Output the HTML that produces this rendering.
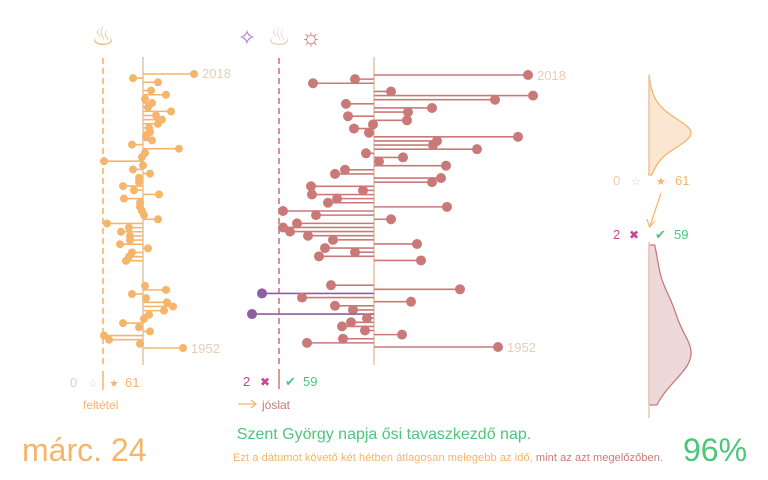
<!DOCTYPE html>
<html><head><meta charset="utf-8"><style>
html,body{margin:0;padding:0;background:#fff;}
svg{display:block;font-family:"Liberation Sans",sans-serif;}
</style></head><body>
<svg id="c" width="768" height="480" viewBox="0 0 768 480">
<g id="left"></g>
<g id="mid"></g>
<g id="dens"></g>
<text x="103" y="45" font-size="26" fill="#f5b56a" text-anchor="middle">♨</text>
<text x="247" y="45" font-size="22" fill="#a77cc0" text-anchor="middle">✧</text>
<text x="279" y="45" font-size="26" fill="#e8cdb5" text-anchor="middle">♨</text>
<text x="311" y="45" font-size="24" fill="#c97a78" text-anchor="middle">☼</text>
<text x="202" y="78" font-size="13" fill="#e8cdb5">2018</text>
<text x="191" y="353" font-size="13" fill="#e8cdb5">1952</text>
<text x="537" y="80" font-size="13" fill="#e8cdb5">2018</text>
<text x="507" y="352" font-size="13" fill="#e8cdb5">1952</text>
<g font-size="13">
<text x="70" y="387" fill="#f0cbb0">0</text><text x="88" y="387" fill="#f0cbb0" font-size="11">☆</text>
<line x1="103" y1="371" x2="103" y2="390" stroke="#f5b56a" stroke-width="1.5"/>
<text x="109" y="387" fill="#f5b56a" font-size="11">★</text><text x="125" y="387" fill="#f5b56a">61</text>
<text x="83" y="409" fill="#f5b56a" font-size="12">feltétel</text>
</g>
<g font-size="13">
<text x="243" y="386" fill="#cc4499">2</text><text x="260" y="386" fill="#cc4499" font-size="12">✖</text>
<line x1="279" y1="369" x2="279" y2="389" stroke="#c97a78" stroke-width="1.5"/>
<text x="285" y="386" fill="#4cc77a" font-size="13">✔</text><text x="303" y="386" fill="#4cc77a">59</text>
<line x1="238" y1="404" x2="255" y2="404" stroke="#f5b56a" stroke-width="1.3"/>
<path d="M251 400 L256 404 L251 408" fill="none" stroke="#f5b56a" stroke-width="1.3"/>
<text x="262" y="409" fill="#c97a78" font-size="12">jóslat</text>
</g>
<g font-size="13">
<text x="613" y="185" fill="#f0cbb0">0</text><text x="631" y="185" fill="#f0cbb0" font-size="11">☆</text>
<text x="656" y="185" fill="#f5b56a" font-size="11">★</text><text x="675" y="185" fill="#f5b56a">61</text>
<line x1="661" y1="193" x2="650" y2="226" stroke="#f5b56a" stroke-width="1.2"/>
<path d="M647 219 L649.5 227 L655 221" fill="none" stroke="#f5b56a" stroke-width="1.2"/>
<text x="613" y="239" fill="#cc4499">2</text><text x="629" y="239" fill="#cc4499" font-size="12">✖</text>
<text x="655" y="239" fill="#4cc77a">✔</text><text x="674" y="239" fill="#4cc77a">59</text>
</g>
<text x="22" y="461" font-size="32" fill="#f5b56a">márc. 24</text>
<text x="683" y="461" font-size="32" fill="#4cc77a">96%</text>
<text x="384" y="439" font-size="16" fill="#4cc77a" text-anchor="middle">Szent György napja ősi tavaszkezdő nap.</text>
<text x="448" y="461" font-size="11" fill="#f5b56a" text-anchor="middle" textLength="430">Ezt a dátumot követő két hétben átlagosan melegebb az idő, <tspan fill="#c97a78">mint az azt megelőzőben.</tspan></text>
</svg>
<script>
const years = []; for (let y = 2018; y >= 1952; y--) years.push(y);
const condValues = [5.1,-1.0,1.5,null,0.8,2.3,0.2,0.9,0.5,2.8,1.3,1.9,1.5,0.6,0.7,0.3,0.9,-1.1,3.6,0.2,-0.1,-3.9,0.0,-1.0,0.7,-0.4,-0.4,-2.0,-0.9,1.6,-1.9,-0.3,-0.3,-0.1,0.1,1.5,-3.6,-1.4,-2.2,-1.3,-1.3,-2.3,0.5,-1.1,-1.4,-1.7,null,null,null,null,null,0.2,2.3,-1.1,0.3,2.4,3.0,2.1,0.6,0.1,-2.0,-0.4,0.7,-3.9,-3.4,-0.3,4.0];
const predValues = [15.4,-1.9,-6.1,null,1.7,15.9,12.1,-2.8,5.8,3.4,-2.6,3.3,-0.1,-2.0,-0.5,14.4,6.3,5.9,10.3,-0.8,2.9,0.5,7.2,-2.9,-3.9,6.7,5.8,-6.3,-1.1,-6.2,-3.7,-4.6,7.3,-9.1,-5.8,1.7,-7.7,-9.1,-8.4,-6.6,-4.1,4.3,-4.9,-1.9,-5.5,4.7,null,null,null,null,null,-4.3,8.6,-11.2,-7.2,3.7,-3.9,-2.1,-12.2,-0.7,-2.3,-3.2,-0.9,2.8,-3.1,-6.7,12.4];
const condThreshold = -4.0, predThreshold = -9.5;
const NS='http://www.w3.org/2000/svg';
function mk(tag, attrs, parent){const e=document.createElementNS(NS,tag);for(const k in attrs)e.setAttribute(k,attrs[k]);parent.appendChild(e);return e;}
function drawLollipop(g, vals, x0, scale, yTop, yBot, r, color, thr, lowColor, lineColor, dashColor){
  const n = vals.length;
  const yS = i => yTop + i*(yBot-yTop)/(n-1);
  const xS = v => x0 + v*scale;
  const d = mk('line',{x1:xS(thr),x2:xS(thr),y1:58,y2:365,stroke:dashColor,'stroke-width':1.6,'stroke-dasharray':'6,4'},g);
  
  
  const a = mk('line',{x1:x0,x2:x0,y1:57,y2:365,stroke:lineColor,'stroke-width':1.8},g);
  
  
  vals.forEach((v,i)=>{
    if(v===null) return;
    const c = v < thr ? lowColor : color;
    const l = mk('line',{x1:x0,x2:xS(v),y1:yS(i),y2:yS(i),stroke:c,'stroke-width':1.6},g);
    
    
    const ci = mk('circle',{cx:xS(v),cy:yS(i),r:r,fill:c},g);
    
    
  });
}
drawLollipop(document.getElementById('left'), condValues, 143, 10, 74, 348, 4, '#f5b56a', condThreshold, '#f5b56a', '#e8cdb5', '#f5b56a');
drawLollipop(document.getElementById('mid'), predValues, 374, 10, 75, 347, 5, '#c97a78', predThreshold, '#8e5fa0', '#e8cdb5', '#c97a78');
function kde(vals, lo, hi, bw, steps){
  const v = vals.filter(x=>x!==null); const out=[];
  for(let s=0;s<=steps;s++){const x=lo+(hi-lo)*s/steps;let d=0;v.forEach(t=>{const z=(x-t)/bw;d+=Math.exp(-0.5*z*z);});out.push([x,d]);}
  const m=Math.max(...out.map(p=>p[1]));return out.map(p=>[p[0],p[1]/m]);
}
const dg=document.getElementById('dens');
function drawDens(vals, lo, hi, yLo, yHi, bw, fill, stroke, name){
  const pts=kde(vals,lo,hi,bw,60);
  const yS=x=>yLo+(x-lo)/(hi-lo)*(yHi-yLo);
  let p='M649 '+yS(lo);
  pts.forEach(q=>{p+=' L'+(649+q[1]*42).toFixed(1)+' '+yS(q[0]).toFixed(1);});
  p+=' L649 '+yS(hi)+' Z';
  const e=mk('path',{d:p,fill:fill,stroke:stroke,'stroke-width':1.3},dg);
  
  
}
drawDens(condValues,-5,7,175,75,1.1,'#fbe6d2','#f5b56a','condition-density');
drawDens(predValues,-12.5,16.5,405,245,3.2,'#eed9da','#c97a78','prediction-density');
const ax=mk('line',{x1:649,x2:649,y1:75,y2:173,stroke:'#e8cdb5','stroke-width':1.6},dg);


const ax2=mk('line',{x1:649,x2:649,y1:242,y2:418,stroke:'#e8cdb5','stroke-width':1.6},dg);


</script>
</body></html>
